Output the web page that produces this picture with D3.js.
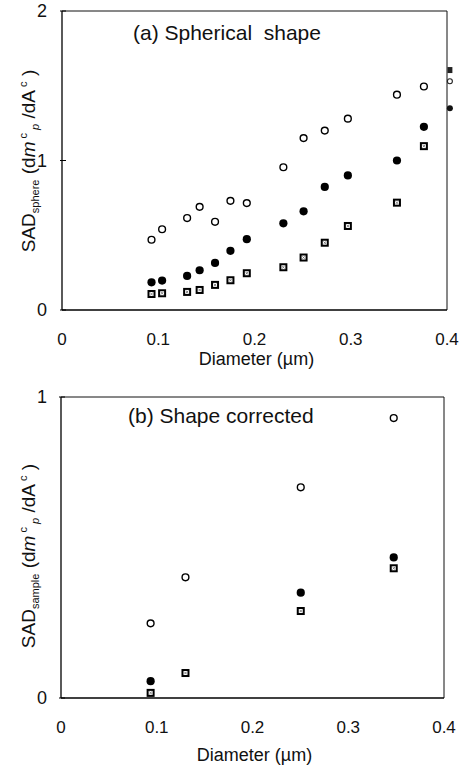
<!DOCTYPE html>
<html>
<head>
<meta charset="utf-8">
<script src="https://cdn.jsdelivr.net/npm/d3@7"></script>
<style>
  body { margin: 0; background: #fff; }
  svg { display: block; font-family: "Liberation Sans", Arial, sans-serif; }
</style>
</head>
<body>
<svg id="chart" width="459" height="770"></svg>
<script>
// ---------- Data ----------
const xTicks = [0, 0.1, 0.2, 0.3, 0.4];
const xTickLabels = ["0", "0.1", "0.2", "0.3", "0.4"];

// Panel (a): Spherical shape
const aDiam   = [0.093, 0.104, 0.130, 0.143, 0.159, 0.175, 0.192, 0.230, 0.251, 0.273, 0.297, 0.348, 0.376];
const aOpen   = [0.47, 0.54, 0.615, 0.69, 0.59, 0.73, 0.715, 0.955, 1.15, 1.20, 1.28, 1.44, 1.495];
const aFilled = [0.185, 0.197, 0.228, 0.266, 0.315, 0.396, 0.474, 0.58, 0.66, 0.823, 0.90, 1.00, 1.225];
const aSquare = [0.107, 0.112, 0.121, 0.134, 0.168, 0.199, 0.246, 0.286, 0.351, 0.45, 0.562, 0.718, 1.096];
// partially visible marks at the right edge of panel (a)
const aEdgeDiam = 0.403;
const aEdgeOpen = [1.53];
const aEdgeFilled = [1.35];
const aEdgeSquare = [1.605];
const aYTicks = [0, 1, 2];

// Panel (b): Shape corrected
const bDiam   = [0.0936, 0.130, 0.2504, 0.3475];
const bOpen   = [0.248, 0.401, 0.700, 0.930];
const bFilled = [0.056, null, 0.350, 0.467];
const bSquare = [0.017, 0.083, 0.289, 0.431];
const bYTicks = [0, 1];

const svg = d3.select("#chart");

function drawPanel(cfg) {
  const x = d3.scaleLinear().domain([0, 0.4]).range([cfg.left, cfg.right]);
  const y = d3.scaleLinear().domain([0, cfg.ymax]).range([cfg.bottom, cfg.top]);
  const g = svg.append("g");

  // frame
  g.append("line").attr("x1", cfg.left).attr("x2", cfg.right).attr("y1", cfg.top).attr("y2", cfg.top)
    .attr("stroke", "#111").attr("stroke-width", 1);
  g.append("line").attr("x1", cfg.right).attr("x2", cfg.right).attr("y1", cfg.top).attr("y2", cfg.bottom)
    .attr("stroke", "#111").attr("stroke-width", 1);
  g.append("line").attr("x1", cfg.left).attr("x2", cfg.left).attr("y1", cfg.top).attr("y2", cfg.bottom)
    .attr("stroke", "#000").attr("stroke-width", 1.3);
  g.append("line").attr("x1", cfg.left).attr("x2", cfg.right).attr("y1", cfg.bottom).attr("y2", cfg.bottom)
    .attr("stroke", "#000").attr("stroke-width", 1.6);

  // y ticks (small, crossing the axis)
  g.selectAll(".yt").data(cfg.yTicks).enter().append("line")
    .attr("x1", cfg.left - 2).attr("x2", cfg.left + 4)
    .attr("y1", d => y(d)).attr("y2", d => y(d))
    .attr("stroke", "#000").attr("stroke-width", 1);

  // y tick labels
  g.selectAll(".ytl").data(cfg.yTicks).enter().append("text")
    .attr("x", 42).attr("y", d => y(d)).attr("dy", "0.36em")
    .attr("text-anchor", "middle").attr("font-size", 18).attr("fill", "#111")
    .text(d => d3.format("d")(d));

  // x tick labels
  g.selectAll(".xtl").data(xTicks).enter().append("text")
    .attr("x", d => x(d)).attr("y", cfg.xLabelY).attr("dy", "0.36em")
    .attr("text-anchor", "middle").attr("font-size", 17).attr("fill", "#111")
    .text((d, i) => xTickLabels[i]);

  // x axis title
  g.append("text").attr("x", (cfg.left + cfg.right) / 2 + 2).attr("y", cfg.xTitleY).attr("dy", "0.36em")
    .attr("text-anchor", "middle").attr("font-size", 18).attr("fill", "#111")
    .text("Diameter (µm)");

  // y axis title
  const yt = g.append("text")
    .attr("transform", `translate(${cfg.yTitleX},${cfg.yTitleY}) rotate(-90)`)
    .attr("text-anchor", "middle").attr("dy", "0.36em")
    .attr("font-size", 19).attr("fill", "#111");
  yt.append("tspan").text("SAD");
  yt.append("tspan").attr("font-size", 11).attr("dy", 4).text(cfg.sub);
  yt.append("tspan").attr("dy", -4).text(" (d");
  yt.append("tspan").attr("font-style", "italic").text("m");
  yt.append("tspan").attr("font-size", 11).attr("dy", -8).text(" c");
  yt.append("tspan").attr("font-size", 11).attr("font-style", "italic").attr("dy", 12).text(" p");
  yt.append("tspan").attr("dy", -4).text(" /dA");
  yt.append("tspan").attr("font-size", 11).attr("dy", -8).text(" c");
  yt.append("tspan").attr("dy", 8).text(" )");

  // panel title
  g.append("text").attr("x", cfg.titleX).attr("y", cfg.titleY)
    .attr("font-size", 21).attr("fill", "#111").attr("xml:space", "preserve")
    .style("white-space", "pre")
    .text(cfg.title);

  // markers
  function squares(xs, ys) {
    const pts = xs.map((d, i) => [d, ys[i]]).filter(p => p[1] != null);
    const s = g.selectAll(null).data(pts).enter().append("g")
      .attr("transform", p => `translate(${x(p[0])},${y(p[1])})`);
    s.append("rect").attr("x", -4).attr("y", -4).attr("width", 8).attr("height", 8).attr("fill", "#000");
    s.append("rect").attr("x", -2).attr("y", -2).attr("width", 4).attr("height", 4).attr("fill", "#fff");
    s.append("path").attr("d", "M-1.3,-1.3L1.3,1.3M1.3,-1.3L-1.3,1.3").attr("stroke", "#555").attr("stroke-width", 0.7);
  }
  function filled(xs, ys) {
    const pts = xs.map((d, i) => [d, ys[i]]).filter(p => p[1] != null);
    g.selectAll(null).data(pts).enter().append("circle")
      .attr("cx", p => x(p[0])).attr("cy", p => y(p[1])).attr("r", 4.1).attr("fill", "#000");
  }
  function open(xs, ys) {
    const pts = xs.map((d, i) => [d, ys[i]]).filter(p => p[1] != null);
    g.selectAll(null).data(pts).enter().append("circle")
      .attr("cx", p => x(p[0])).attr("cy", p => y(p[1])).attr("r", 3.4)
      .attr("fill", "#fff").attr("stroke", "#000").attr("stroke-width", 1.4);
  }
  cfg.series.forEach(s => {
    if (s.type === "open") open(s.x, s.y);
    else if (s.type === "filled") filled(s.x, s.y);
    else squares(s.x, s.y);
  });
  if (cfg.edge) {
    const eg = g.append("g");
    const ex = x(cfg.edge.x);
    eg.selectAll(null).data(cfg.edge.square).enter().append("rect")
      .attr("x", ex - 2.5).attr("y", d => y(d) - 3).attr("width", 5).attr("height", 6).attr("fill", "#222");
    eg.selectAll(null).data(cfg.edge.open).enter().append("circle")
      .attr("cx", ex).attr("cy", d => y(d)).attr("r", 2.5)
      .attr("fill", "#fff").attr("stroke", "#222").attr("stroke-width", 1.1);
    eg.selectAll(null).data(cfg.edge.filled).enter().append("circle")
      .attr("cx", ex).attr("cy", d => y(d)).attr("r", 3).attr("fill", "#111");
  }
}

drawPanel({
  left: 62, right: 447, top: 11, bottom: 310, ymax: 2, yTicks: aYTicks,
  xLabelY: 339, xTitleY: 359, yTitleX: 28, yTitleY: 161, sub: "sphere",
  title: "(a) Spherical  shape", titleX: 133, titleY: 40,
  series: [
    { type: "open", x: aDiam, y: aOpen },
    { type: "filled", x: aDiam, y: aFilled },
    { type: "square", x: aDiam, y: aSquare }
  ],
  edge: { x: aEdgeDiam, open: aEdgeOpen, filled: aEdgeFilled, square: aEdgeSquare }
});

drawPanel({
  left: 61, right: 444, top: 397, bottom: 698, ymax: 1, yTicks: bYTicks,
  xLabelY: 727, xTitleY: 755, yTitleX: 28, yTitleY: 556, sub: "sample",
  title: "(b) Shape corrected", titleX: 128, titleY: 423,
  series: [
    { type: "open", x: bDiam, y: bOpen },
    { type: "filled", x: bDiam, y: bFilled },
    { type: "square", x: bDiam, y: bSquare }
  ]
});
</script>
</body>
</html>
